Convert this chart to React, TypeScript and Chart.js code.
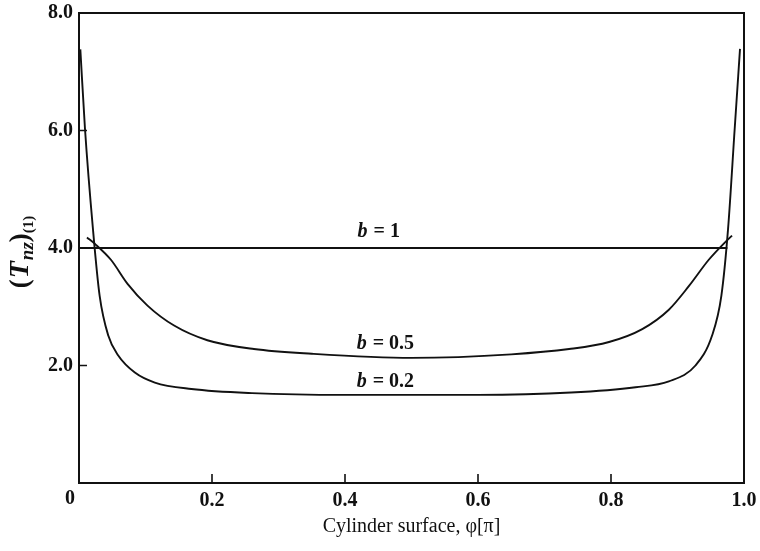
import React, { useEffect, useRef } from 'react';
import { Chart, registerables } from 'chart.js';

Chart.register(...registerables);

// Axis ticks
const xTickValues = [0.2, 0.4, 0.6, 0.8];
const yTickValues = [2, 4, 6];

// b = 1
const b1X = [0, 0.975];
const b1Y = [4.0, 4.0];

// b = 0.5
const b05X = [0.012, 0.024, 0.048, 0.073, 0.103, 0.143, 0.193, 0.263, 0.35, 0.5, 0.65, 0.737, 0.797, 0.847, 0.887, 0.917, 0.947, 0.97, 0.982];
const b05Y = [4.18, 4.07, 3.8, 3.39, 3.02, 2.68, 2.43, 2.28, 2.2, 2.13, 2.19, 2.28, 2.4, 2.62, 2.95, 3.35, 3.8, 4.08, 4.21];

// b = 0.2
const b02X = [0.002, 0.009, 0.021, 0.031, 0.044, 0.059, 0.084, 0.114, 0.169, 0.26, 0.4, 0.5, 0.6, 0.74, 0.837, 0.887, 0.927, 0.952, 0.966, 0.976, 0.986, 0.994];
const b02Y = [7.38, 6.03, 4.32, 3.19, 2.51, 2.17, 1.88, 1.71, 1.6, 1.53, 1.5, 1.5, 1.5, 1.54, 1.63, 1.73, 2.0, 2.51, 3.19, 4.32, 6.03, 7.39];

// Curve labels
const labelValues = ['1', '0.5', '0.2'];
const labelX = [0.45, 0.46, 0.46];
const labelY = [4.27, 2.37, 1.72];

const SERIF = '"Liberation Serif", "DejaVu Serif", serif';
const INK = '#111111';

const toPts = (xs: number[], ys: number[]) => xs.map((x, i) => ({ x, y: ys[i] }));

const decorPlugin = {
  id: 'decor',
  afterDraw(chart: any) {
    const { ctx, chartArea } = chart;
    const xs = chart.scales.x;
    const ys = chart.scales.y;
    const { left, right, top, bottom } = chartArea;
    ctx.save();
    ctx.strokeStyle = INK;
    ctx.lineWidth = 2;
    ctx.strokeRect(left, top, right - left, bottom - top);
    // inward ticks
    ctx.lineWidth = 1.6;
    ctx.beginPath();
    yTickValues.forEach((v) => {
      const py = ys.getPixelForValue(v);
      ctx.moveTo(left, py);
      ctx.lineTo(left + 8, py);
    });
    xTickValues.forEach((v) => {
      const px = xs.getPixelForValue(v);
      ctx.moveTo(px, bottom);
      ctx.lineTo(px, bottom - 9);
    });
    ctx.stroke();

    // "0" origin label
    ctx.fillStyle = INK;
    ctx.font = `bold 20px ${SERIF}`;
    ctx.textAlign = 'center';
    ctx.textBaseline = 'middle';
    ctx.fillText('0', xs.getPixelForValue(0) - 9, bottom + 16);

    // curve labels
    labelValues.forEach((val, i) => {
      const cx = xs.getPixelForValue(labelX[i]);
      const cy = ys.getPixelForValue(labelY[i]);
      const fB = `italic bold 20px ${SERIF}`;
      const fR = `bold 20px ${SERIF}`;
      const rest = ' = ' + val;
      ctx.font = fB;
      const wB = ctx.measureText('b').width;
      ctx.font = fR;
      const wR = ctx.measureText(rest).width;
      const x0 = cx - (wB + wR) / 2;
      ctx.textAlign = 'left';
      ctx.font = fB;
      ctx.fillText('b', x0, cy);
      ctx.font = fR;
      ctx.fillText(rest, x0 + wB + 1, cy);
    });

    // y title
    const parts = [
      { t: '(', f: `bold 27px ${SERIF}`, dy: 0, gap: 1 },
      { t: 'T', f: `bold italic 28px ${SERIF}`, dy: 0, gap: 1 },
      { t: 'nz', f: `bold italic 19px ${SERIF}`, dy: 7, gap: 0 },
      { t: ')', f: `bold 27px ${SERIF}`, dy: 0, gap: 0 },
      { t: '(1)', f: `bold 15px ${SERIF}`, dy: 8, gap: 0 },
    ];
    let total = 0;
    const widths = parts.map((p) => {
      ctx.font = p.f;
      const w = ctx.measureText(p.t).width + p.gap;
      total += w;
      return w;
    });
    ctx.translate(21, 252);
    ctx.rotate(-Math.PI / 2);
    let x = -total / 2;
    ctx.textAlign = 'left';
    ctx.textBaseline = 'middle';
    parts.forEach((p, i) => {
      ctx.font = p.f;
      ctx.fillText(p.t, x, p.dy);
      x += widths[i];
    });
    ctx.restore();
  },
};

export default function App() {
  const ref = useRef<HTMLCanvasElement | null>(null);
  useEffect(() => {
    if (!ref.current) return;
    const ds = (data: any[]) => ({
      data,
      borderColor: INK,
      borderWidth: 1.9,
      pointRadius: 0,
      fill: false,
      cubicInterpolationMode: 'monotone' as const,
    });
    const chart = new Chart(ref.current, {
      type: 'line',
      data: {
        datasets: [ds(toPts(b1X, b1Y)), ds(toPts(b05X, b05Y)), ds(toPts(b02X, b02Y))],
      },
      options: {
        animation: false,
        responsive: true,
        maintainAspectRatio: false,
        layout: { padding: { top: 13, right: 16, left: 0, bottom: 0 } },
        plugins: { legend: { display: false }, tooltip: { enabled: false } },
        scales: {
          x: {
            type: 'linear',
            min: 0,
            max: 1,
            grid: { display: false, drawTicks: false },
            border: { display: false },
            ticks: {
              stepSize: 0.2,
              padding: 6,
              color: INK,
              autoSkip: false,
              maxRotation: 0,
              font: { family: SERIF, size: 20, weight: 'bold' },
              callback: (v: any) => (Number(v) === 0 ? '' : Number(v).toFixed(1)),
            },
            title: {
              display: true,
              text: 'Cylinder surface, φ[π]',
              color: INK,
              font: { family: SERIF, size: 20 },
              padding: { top: 0, bottom: 12 },
            },
            afterFit: (s: any) => {
              s.height = 68;
              s.paddingLeft = 0;
              s.paddingRight = 0;
            },
          },
          y: {
            type: 'linear',
            min: 0,
            max: 8,
            grid: { display: false, drawTicks: false },
            border: { display: false },
            ticks: {
              stepSize: 2,
              padding: 6,
              color: INK,
              font: { family: SERIF, size: 20, weight: 'bold' },
              callback: (v: any) => (Number(v) === 0 ? '' : Number(v).toFixed(1)),
            },
            afterFit: (s: any) => {
              s.width = 79;
              s.paddingTop = 0;
              s.paddingBottom = 0;
            },
          },
        },
      },
      plugins: [decorPlugin],
    });
    return () => chart.destroy();
  }, []);
  return (
    <div style={{ position: 'fixed', left: 0, top: 0, width: 760, height: 551, background: '#fff' }}>
      <canvas ref={ref} />
    </div>
  );
}
